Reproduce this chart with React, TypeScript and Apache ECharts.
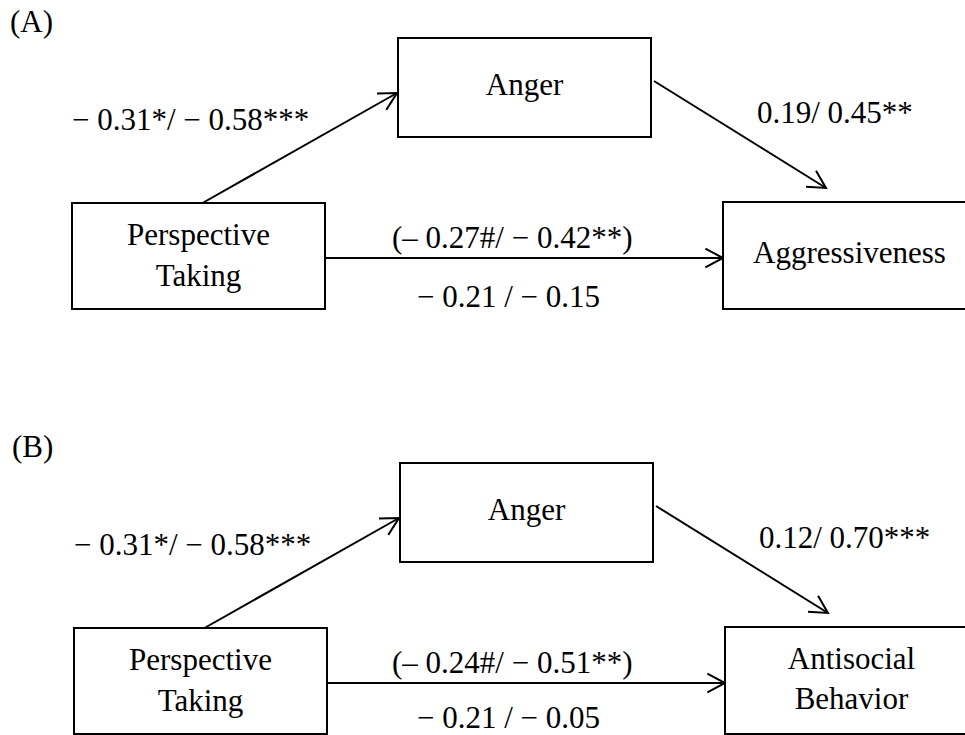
import React, { useEffect, useRef } from "react";
import * as echarts from "echarts";

// ---- data ----
const panelLabels = ["(A)", "(B)"];
const predictorLines = ["Perspective", "Taking"];
const mediatorLabel = "Anger";
const outcomeLines = [["Aggressiveness"], ["Antisocial", "Behavior"]];
const pathALabels = ["− 0.31*/ − 0.58***", "− 0.31*/ − 0.58***"];
const pathBLabels = ["0.19/ 0.45**", "0.12/ 0.70***"];
const totalEffectLabels = ["(– 0.27#/ − 0.42**)", "(– 0.24#/ − 0.51**)"];
const directEffectLabels = ["− 0.21 / − 0.15", "− 0.21 / − 0.05"];

// ---- layout ----
const FONT_FAMILY = "'Liberation Serif', 'Times New Roman', Times, serif";
const FONT_SIZE = 31;
const BASE_SHIFT = 10.5; // baseline -> middle
const LINE_GAP = 41;
const PANEL_DY = 425;
const PANEL_DX = 2;
const STROKE = "#000";

const predBox = { x: 72, y: 203, w: 253, h: 106 };
const medBox = { x: 398, y: 38, w: 253, h: 99 };
const outBox = { x: 723, y: 202, w: 253, h: 107 };

function txt(s: string, x: number, baseline: number, align: string) {
  return {
    type: "text",
    silent: true,
    style: {
      text: s,
      x,
      y: baseline - BASE_SHIFT,
      fill: "#000",
      fontFamily: FONT_FAMILY,
      fontSize: FONT_SIZE,
      align,
      verticalAlign: "middle",
    },
  };
}

function box(b: { x: number; y: number; w: number; h: number }, dx: number, dy: number) {
  return {
    type: "rect",
    silent: true,
    shape: { x: b.x + dx, y: b.y + dy, width: b.w, height: b.h },
    style: { fill: "#fff", stroke: STROKE, lineWidth: 2 },
  };
}

function arrow(from: number[], tip: number[], dx: number, dy: number) {
  const f = [from[0] + dx, from[1] + dy];
  const t = [tip[0] + dx, tip[1] + dy];
  const vx = f[0] - t[0];
  const vy = f[1] - t[1];
  const L = Math.hypot(vx, vy);
  const ux = vx / L;
  const uy = vy / L;
  const len = 20;
  const ang = Math.PI / 6.4;
  const rot = (a: number) => [
    t[0] + len * (ux * Math.cos(a) - uy * Math.sin(a)),
    t[1] + len * (ux * Math.sin(a) + uy * Math.cos(a)),
  ];
  return [
    {
      type: "line",
      silent: true,
      shape: { x1: f[0], y1: f[1], x2: t[0], y2: t[1] },
      style: { stroke: STROKE, lineWidth: 2 },
    },
    {
      type: "polyline",
      silent: true,
      shape: { points: [rot(ang), t, rot(-ang)] },
      style: { stroke: STROKE, lineWidth: 2, fill: null },
    },
  ];
}

function panel(i: number) {
  const dx = i * PANEL_DX;
  const dy = i * PANEL_DY;
  const els: any[] = [];
  // arrows
  els.push(...arrow([199, 205], [397, 93], dx, dy));
  els.push(...arrow([654, 81], [826, 188], dx, dy));
  els.push(...arrow([predBox.x + predBox.w, 258], [outBox.x, 258], dx, dy));
  // boxes
  els.push(box(predBox, dx, dy));
  els.push(box(medBox, dx, dy));
  els.push(box(outBox, dx, dy));
  // panel label
  els.push(txt(panelLabels[i], 10 + dx, 32 + dy, "left"));
  // box labels
  const pcx = predBox.x + predBox.w / 2 + dx;
  const pcy = predBox.y + predBox.h / 2 + dy;
  els.push(txt(predictorLines[0], pcx, pcy - 11, "center"));
  els.push(txt(predictorLines[1], pcx, pcy - 11 + LINE_GAP, "center"));
  els.push(
    txt(mediatorLabel, medBox.x + medBox.w / 2 + dx, medBox.y + medBox.h / 2 + 7.5 + dy, "center")
  );
  const ocx = outBox.x + outBox.w / 2 + dx;
  const ocy = outBox.y + outBox.h / 2 + dy;
  const lines = outcomeLines[i];
  if (lines.length === 1) {
    els.push(txt(lines[0], ocx, ocy + 7.5, "center"));
  } else {
    els.push(txt(lines[0], ocx, ocy - 12, "center"));
    els.push(txt(lines[1], ocx, ocy - 12 + LINE_GAP - 1, "center"));
  }
  // coefficients
  els.push(txt(pathALabels[i], 72 + dx, 130 + dy, "left"));
  els.push(txt(pathBLabels[i], 757 + dx, 123 + dy, "left"));
  els.push(txt(totalEffectLabels[i], 392, 248 + dy, "left"));
  // keep the bottom label inside the page edge
  els.push(txt(directEffectLabels[i], 417, 307 + dy - i * 4, "left"));
  return els;
}

export default function App() {
  const ref = useRef<HTMLDivElement>(null);
  useEffect(() => {
    if (!ref.current) return;
    const chart = echarts.init(ref.current, null, { renderer: "svg" });
    chart.setOption({
      animation: false,
      backgroundColor: "#fff",
      graphic: { elements: [...panel(0), ...panel(1)] },
    });
    return () => chart.dispose();
  }, []);
  return (
    <div
      ref={ref}
      style={{ position: "fixed", left: 0, top: 0, width: 965, height: 735, background: "#fff" }}
    />
  );
}
